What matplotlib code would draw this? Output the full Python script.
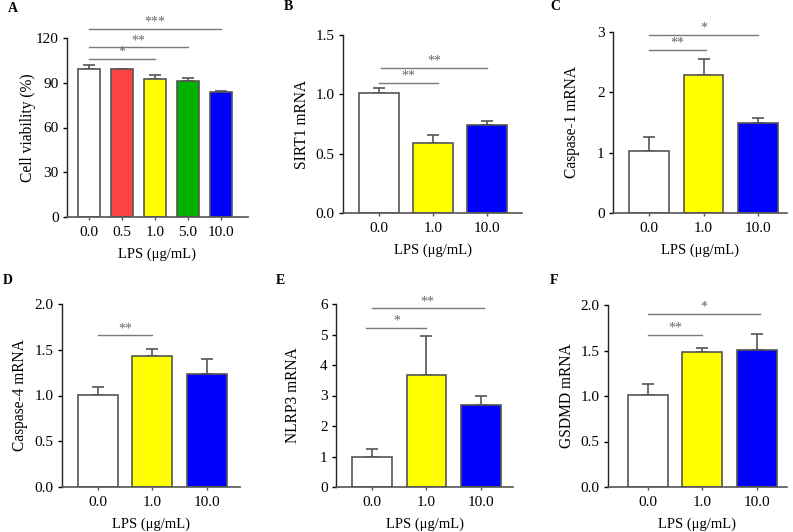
import numpy as np
import matplotlib
matplotlib.use('Agg')
import matplotlib.pyplot as plt

plt.rcParams['font.family'] = ['Liberation Serif', 'DejaVu Serif']

W, H = 793, 532

# --- data ---
dose_a = ['0.0', '0.5', '1.0', '5.0', '10.0']
viab = [99.5, 98.9, 92.5, 91.1, 84.1]
viab_err = [2.3, 0.5, 2.4, 2.4, 0.4]

dose = ['0.0', '1.0', '10.0']
sirt1 = [1.01, 0.59, 0.745]
sirt1_err = [0.045, 0.065, 0.03]
casp1 = [1.03, 2.28, 1.486]
casp1_err = [0.225, 0.28, 0.083]
casp4 = [1.01, 1.43, 1.24]
casp4_err = [0.08, 0.083, 0.16]
nlrp3 = [1.0, 3.665, 2.673]
nlrp3_err = [0.24, 1.28, 0.295]
gsdmd = [1.01, 1.484, 1.503]
gsdmd_err = [0.123, 0.048, 0.183]

colors_a = ['white', '#fd4242', '#ffff00', '#00b200', '#0000ff']
colors3 = ['white', '#ffff00', '#0000ff']

fig = plt.figure(figsize=(W / 100, H / 100), dpi=100)


def px_axes(l, r, t, b):
    return fig.add_axes([l / W, 1 - b / H, (r - l) / W, (b - t) / H])


def panel(box, vals, errs, cats, cols, ylim, yticks, ylab, ylab_x, letter, letter_xy,
          sigs, xlim, width, fmt):
    ax = px_axes(*box)
    x = np.arange(len(vals))
    ax.bar(x, vals, width=width, color=cols, edgecolor='#555555', linewidth=1.2, zorder=2)
    ax.errorbar(x, vals, yerr=[np.zeros(len(errs)), errs], fmt='none',
                ecolor='#555555', elinewidth=1.2, capsize=4.2, capthick=1.2, zorder=1)
    ax.set_xlim(*xlim)
    ax.set_ylim(*ylim)
    ax.set_yticks(yticks)
    ax.set_yticklabels([fmt % v for v in yticks])
    ax.set_xticks(x)
    ax.set_xticklabels(cats)
    ax.tick_params(labelsize=11, length=3, width=1, direction='out', pad=3)
    ax.tick_params(axis='x', length=2.5, color='#555555', pad=4)
    for s in ['top', 'right']:
        ax.spines[s].set_visible(False)
    ax.spines['left'].set_color('#222222')
    ax.spines['bottom'].set_color('#555555')
    ax.spines['left'].set_linewidth(1)
    ax.spines['bottom'].set_linewidth(1.2)
    ax.set_xlabel('LPS (μg/mL)', fontsize=10.5, labelpad=6)
    l, r, t, b = box
    fig.text(ylab_x / W, 1 - (t + b) / 2 / H, ylab, rotation=90, ha='center', va='center',
             fontsize=11.2)
    fig.text(letter_xy[0] / W, 1 - letter_xy[1] / H, letter, ha='left', va='center',
             fontsize=10, fontweight='bold')
    for i, j, y, lab in sigs:
        ax.plot([i, j], [y, y], color='#7a7a7a', lw=1, clip_on=False, zorder=3)
        ax.text((i + j) / 2, y, lab, ha='center', va='bottom', fontsize=10,
                color='#666666', clip_on=False)
    return ax


panel((67, 248, 38, 217), viab, viab_err, dose_a, colors_a, (0, 120), [0, 30, 60, 90, 120],
      'Cell viability (%)', 28, 'A', (8, 9),
      [(0, 2, 106.1, '*'), (0, 3, 113.9, '**'), (0, 4, 126.3, '***')],
      (-0.67, 4.82), 0.67, '%d')

panel((343, 522, 35, 213), sirt1, sirt1_err, dose, colors3, (0, 1.5), [0, 0.5, 1.0, 1.5],
      'SIRT1 mRNA', 302, 'B', (284, 7),
      [(0, 1.1, 1.099, '**'), (0.03, 2, 1.225, '**')],
      (-0.67, 2.65), 0.74, '%.1f')

panel((613, 787, 32, 213), casp1, casp1_err, dose, colors3, (0, 3), [0, 1, 2, 3],
      'Caspase-1 mRNA', 572, 'C', (550, 7),
      [(0, 1.05, 2.708, '**'), (0, 2, 2.956, '*')],
      (-0.66, 2.53), 0.73, '%d')

panel((62, 240, 304, 487), casp4, casp4_err, dose, colors3, (0, 2), [0, 0.5, 1.0, 1.5, 2.0],
      'Caspase-4 mRNA', 20, 'D', (3, 280),
      [(0, 1, 1.658, '**')],
      (-0.65, 2.6), 0.73, '%.1f')

panel((336, 513, 304, 487), nlrp3, nlrp3_err, dose, colors3, (0, 6), [0, 1, 2, 3, 4, 5, 6],
      'NLRP3 mRNA', 293, 'E', (276, 280),
      [(-0.1, 1, 5.225, '*'), (0, 2.05, 5.858, '**')],
      (-0.66, 2.59), 0.73, '%d')

panel((608, 787, 305, 487), gsdmd, gsdmd_err, dose, colors3, (0, 2), [0, 0.5, 1.0, 1.5, 2.0],
      'GSDMD mRNA', 567, 'F', (550, 280),
      [(0, 1, 1.671, '**'), (0, 2.05, 1.901, '*')],
      (-0.73, 2.55), 0.73, '%.1f')

fig.savefig('out.png', dpi=100)
